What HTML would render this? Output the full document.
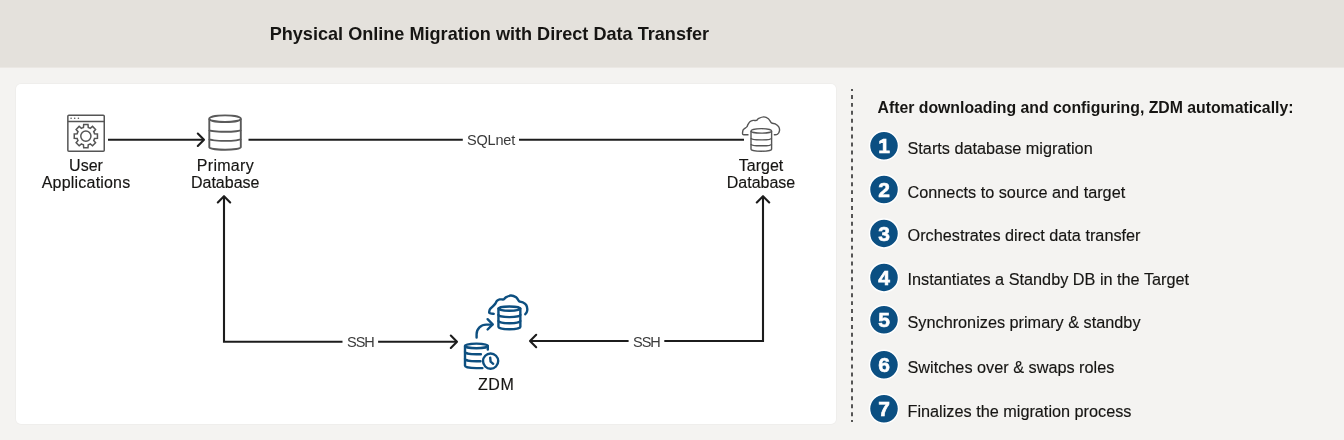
<!DOCTYPE html>
<html><head><meta charset="utf-8">
<style>
html,body{margin:0;padding:0;}
body{width:1344px;height:440px;overflow:hidden;background:#f4f3f1;position:relative;font-family:"Liberation Sans",sans-serif;}
#hdr{position:absolute;left:0;top:0;width:1344px;height:67px;background:#e4e1dc;}
#panel{position:absolute;left:16px;top:84px;width:820px;height:340px;background:#fff;border-radius:5px;box-shadow:0 0 0 1px rgba(0,0,0,0.018);}
svg{position:absolute;left:0;top:0;will-change:transform;}
</style></head>
<body>
<div id="hdr"></div>
<div id="panel"></div>
<svg width="1344" height="440" viewBox="0 0 1344 440">
  <rect x="0" y="67" width="1344" height="1" fill="#e4e1dc" fill-opacity="0.6"/>
  <!-- title -->
  <text x="269.7" y="40.2" font-family="Liberation Sans" font-weight="bold" font-size="18.1" fill="#161513">Physical Online Migration with Direct Data Transfer</text>

  <!-- dashed separator -->
  <line x1="852" y1="89" x2="852" y2="422" stroke="#555" stroke-width="2" stroke-dasharray="3.965 3.965" stroke-dashoffset="1.965"/>

  <!-- right heading -->
  <text x="877.5" y="112.7" font-family="Liberation Sans" font-weight="bold" font-size="15.8" fill="#161513">After downloading and configuring, ZDM automatically:</text>

  <g font-family="Liberation Sans" font-size="16.25" fill="#161513" stroke="#161513" stroke-width="0.15">
    <text x="907.5" y="153.8">Starts database migration</text>
    <text x="907.5" y="197.5">Connects to source and target</text>
    <text x="907.5" y="241.4">Orchestrates direct data transfer</text>
    <text x="907.5" y="285.4">Instantiates a Standby DB in the Target</text>
    <text x="907.5" y="327.8">Synchronizes primary &amp; standby</text>
    <text x="907.5" y="372.8">Switches over &amp; swaps roles</text>
    <text x="907.5" y="416.8">Finalizes the migration process</text>
  </g>
  <g fill="#0b4f82" stroke="#fff" stroke-width="1.5">
    <circle cx="884" cy="145.8" r="14.5"/>
    <circle cx="884" cy="189.5" r="14.5"/>
    <circle cx="884" cy="233.4" r="14.5"/>
    <circle cx="884" cy="277.4" r="14.5"/>
    <circle cx="884" cy="319.8" r="14.5"/>
    <circle cx="884" cy="364.8" r="14.5"/>
    <circle cx="884" cy="408.8" r="14.5"/>
  </g>
  <g font-family="Liberation Sans" font-weight="bold" font-size="21" fill="#fff" stroke="#fff" stroke-width="0.6" text-anchor="middle">
    <text x="884" y="153.2">1</text>
    <text x="884" y="196.9">2</text>
    <text x="884" y="240.8">3</text>
    <text x="884" y="284.8">4</text>
    <text x="884" y="327.2">5</text>
    <text x="884" y="372.2">6</text>
    <text x="884" y="416.2">7</text>
  </g>

  <!-- diagram labels -->
  <g font-family="Liberation Sans" font-size="16" fill="#161513" stroke="#161513" stroke-width="0.15" text-anchor="middle">
    <text x="86" y="171">User</text>
    <text x="86.1" y="187.5" letter-spacing="0.2">Applications</text>
    <text x="225.4" y="171" letter-spacing="0.3">Primary</text>
    <text x="225.2" y="187.5">Database</text>
    <text x="761" y="171">Target</text>
    <text x="761" y="187.5">Database</text>
    <text x="496.2" y="390" letter-spacing="0.6">ZDM</text>
  </g>
  <g font-family="Liberation Sans" font-size="14.5" fill="#3a3a3a">
    <text x="467" y="144.8" letter-spacing="-0.2">SQLnet</text>
    <text x="347" y="347" letter-spacing="-1">SSH</text>
    <text x="633" y="347" letter-spacing="-1">SSH</text>
  </g>

  <!-- connector lines -->
  <g stroke="#1c1c1c" stroke-width="2.1" fill="none" stroke-linecap="round" stroke-linejoin="round">
    <line x1="108" y1="139.8" x2="204" y2="139.8" stroke-linecap="butt"/>
    <polyline points="197.8,133.6 204,139.8 197.8,146"/>
    <line x1="248.5" y1="139.8" x2="462.8" y2="139.8" stroke-linecap="butt"/>
    <line x1="519" y1="139.8" x2="744" y2="139.8" stroke-linecap="butt"/>
    <!-- left SSH path -->
    <polyline points="224,196.5 224,341.8 342.5,341.8" stroke-linecap="butt" stroke-linejoin="miter"/>
    <polyline points="217.8,202.4 224,196.2 230.2,202.4"/>
    <line x1="378.1" y1="341.8" x2="457" y2="341.8" stroke-linecap="butt"/>
    <polyline points="450.8,335.6 457,341.8 450.8,348"/>
    <!-- right SSH path -->
    <polyline points="763,196.5 763,341 664.3,341" stroke-linecap="butt" stroke-linejoin="miter"/>
    <polyline points="756.8,202.4 763,196.2 769.2,202.4"/>
    <line x1="628.6" y1="341" x2="530" y2="341" stroke-linecap="butt"/>
    <polyline points="536.2,334.8 530,341 536.2,347.2"/>
  </g>

  <!-- user app icon -->
  <g stroke="#555" stroke-width="1.5" fill="none">
    <rect x="67.85" y="115.25" width="36.4" height="36" rx="1"/>
    <line x1="67.85" y1="121.4" x2="104.25" y2="121.4"/>
    <path d="M83.44 127.43L83.70 124.50L88.00 124.50L88.26 127.43A9.0 9.0 0 0 1 90.28 128.27L92.53 126.38L95.57 129.42L93.68 131.67A9.0 9.0 0 0 1 94.52 133.69L97.45 133.95L97.45 138.25L94.52 138.51A9.0 9.0 0 0 1 93.68 140.53L95.57 142.78L92.53 145.82L90.28 143.93A9.0 9.0 0 0 1 88.26 144.77L88.00 147.70L83.70 147.70L83.44 144.77A9.0 9.0 0 0 1 81.42 143.93L79.17 145.82L76.13 142.78L78.02 140.53A9.0 9.0 0 0 1 77.18 138.51L74.25 138.25L74.25 133.95L77.18 133.69A9.0 9.0 0 0 1 78.02 131.67L76.13 129.42L79.17 126.38L81.42 128.27A9.0 9.0 0 0 1 83.44 127.43Z"/>
    <circle cx="85.85" cy="136.1" r="5.1"/>
  </g>
  <g fill="#555">
    <circle cx="71.1" cy="118.3" r="0.8"/>
    <circle cx="74.7" cy="118.3" r="0.8"/>
    <circle cx="78.4" cy="118.3" r="0.8"/>
  </g>

  <!-- primary db icon -->
  <g stroke="#5a5a5a" stroke-width="1.9" fill="none">
    <ellipse cx="225.05" cy="118.7" rx="15.75" ry="3.3"/>
    <path d="M209.3 118.7V147.2A15.75 2.5 0 0 0 240.8 147.2V118.7"/>
    <path d="M209.3 130A15.75 1.8 0 0 0 240.8 130"/>
    <path d="M209.3 139.1A15.75 1.8 0 0 0 240.8 139.1"/>
  </g>

  <!-- target db icon -->
  <g stroke="#555" stroke-width="1.4" fill="none">
    <ellipse cx="761.3" cy="130.9" rx="10.3" ry="2.25"/>
    <path d="M751 130.9V149.2A10.3 2 0 0 0 771.6 149.2V130.9"/>
    <path d="M751 138A10.3 1.9 0 0 0 771.6 138"/>
    <path d="M751 143.9A10.3 1.9 0 0 0 771.6 143.9"/>
    <path d="M748.50 134.70C747.83 134.70 745.45 134.75 744.50 134.70C743.55 134.65 743.12 134.80 742.80 134.40C742.48 134.00 742.50 133.12 742.60 132.30C742.70 131.48 742.70 130.40 743.40 129.50C744.10 128.60 746.03 127.75 746.80 126.90C747.57 126.05 747.43 125.30 748.00 124.40C748.57 123.50 749.35 122.17 750.20 121.50C751.05 120.83 752.05 120.58 753.10 120.40C754.15 120.22 755.56 120.73 756.50 120.40C757.44 120.07 757.52 118.98 758.75 118.40C759.98 117.82 762.29 116.85 763.90 116.90C765.51 116.95 767.13 117.70 768.40 118.70C769.67 119.70 770.37 122.05 771.50 122.90C772.63 123.75 774.02 123.18 775.20 123.80C776.38 124.42 777.88 125.47 778.60 126.60C779.32 127.73 779.68 129.32 779.50 130.60C779.32 131.88 778.45 133.62 777.50 134.30C776.55 134.98 774.42 134.63 773.80 134.70"/>
  </g>

  <!-- ZDM icon -->
  <g stroke="#0d4f80" stroke-width="2.4" fill="none" stroke-linecap="round">
    <ellipse cx="509.4" cy="308.6" rx="10.95" ry="2.15"/>
    <path d="M498.45 308.6V327.1A10.95 2.15 0 0 0 520.35 327.1V308.6"/>
    <path d="M498.45 315A10.95 2.15 0 0 0 520.35 315"/>
    <path d="M498.45 321.1A10.95 2.15 0 0 0 520.35 321.1"/>
    <path d="M493.70 313.85C493.17 313.78 491.24 313.59 490.50 313.40C489.76 313.21 489.43 313.12 489.25 312.70C489.07 312.28 489.26 311.50 489.40 310.90C489.54 310.30 489.48 309.88 490.10 309.10C490.72 308.32 492.21 307.13 493.10 306.20C493.99 305.27 494.82 304.38 495.45 303.50C496.08 302.62 496.21 301.58 496.90 300.90C497.59 300.22 498.47 299.65 499.60 299.40C500.73 299.15 502.72 299.70 503.70 299.40C504.68 299.10 504.32 298.25 505.50 297.60C506.68 296.95 509.03 295.55 510.80 295.50C512.57 295.45 514.72 296.35 516.10 297.30C517.48 298.25 518.02 300.37 519.10 301.20C520.18 302.03 521.42 301.67 522.60 302.30C523.78 302.93 525.42 303.87 526.20 305.00C526.98 306.13 527.21 307.92 527.30 309.10C527.39 310.28 527.08 311.26 526.75 312.10C526.42 312.94 525.54 313.81 525.30 314.15"/>
    <path d="M476.6 337.6V334.3A9.7 9.7 0 0 1 486.3 324.6H492.3"/>
    <polyline points="487.6,319.2 492.7,324.3 487.6,329.5" stroke-linejoin="round"/>
    <!-- bottom db -->
    <ellipse cx="476.4" cy="345.9" rx="11.4" ry="2.3"/>
    <path d="M465 345.9V365.8C465 367.3 470 368.1 476.4 368.1H482.4"/>
    <path d="M487.8 345.9V349.6"/>
    <path d="M465 351.9C465 353.4 470 354.2 476.4 354.2H480.9"/>
    <path d="M465 358.9C465 360.4 470 361.2 476.4 361.2H480.5"/>
    <circle cx="490.6" cy="361.1" r="7.6"/>
    <polyline points="490.2,357.6 490.6,361.6 493.2,363.8" stroke-linejoin="round"/>
  </g>
</svg>
</body></html>
